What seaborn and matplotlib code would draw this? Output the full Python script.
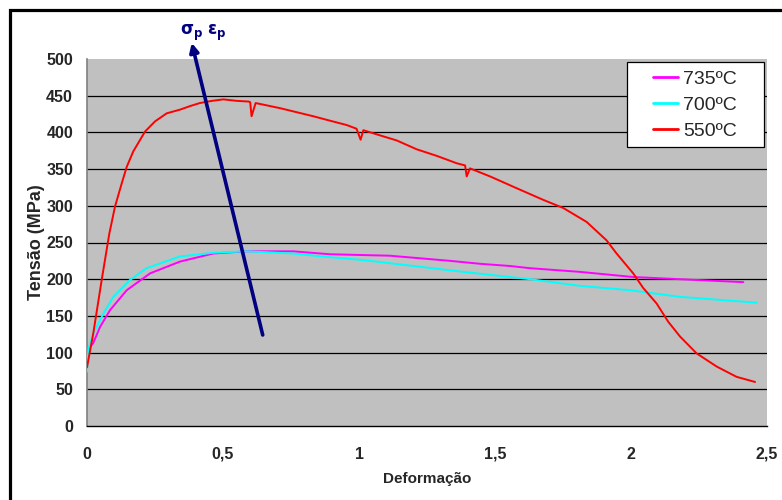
import matplotlib
matplotlib.use("Agg")
import matplotlib.pyplot as plt
from matplotlib.patches import Rectangle
import pandas as pd
import seaborn as sns

# Stress-strain curves at three test temperatures
strain_735 = [0, 0.005, 0.023, 0.048, 0.085, 0.146, 0.232, 0.342, 0.464, 0.587,
              0.758, 0.893, 1.114, 1.335, 1.445, 1.555, 1.629, 1.812, 2.008, 2.18, 2.413]
stress_735 = [83, 105, 113, 135, 158, 185, 208, 224, 235, 238,
              238, 234, 232, 225, 221, 218, 215, 210, 203, 200, 196]

strain_700 = [0, 0.005, 0.023, 0.06, 0.097, 0.158, 0.219, 0.342, 0.464, 0.587,
              0.758, 0.893, 1.016, 1.224, 1.383, 1.555, 1.629, 1.812, 1.996, 2.18, 2.462]
stress_700 = [74, 105, 126, 153, 176, 199, 215, 231, 236, 238,
              235, 230, 226, 217, 210, 203, 200, 191, 185, 176, 168]

strain_550 = [0, 0.01, 0.023, 0.054, 0.082, 0.103, 0.128, 0.146, 0.17, 0.213,
              0.25, 0.293, 0.342, 0.38, 0.415, 0.46, 0.501, 0.55, 0.595, 0.6,
              0.605, 0.62, 0.71, 0.832, 0.893, 0.955, 0.991, 1.006, 1.016, 1.077,
              1.139, 1.212, 1.286, 1.359, 1.39, 1.396, 1.408, 1.482, 1.543, 1.567,
              1.678, 1.751, 1.837, 1.91, 1.947, 2.008, 2.045, 2.094, 2.137, 2.18,
              2.241, 2.315, 2.388, 2.456]
stress_550 = [80, 100, 126, 199, 262, 299, 331, 353, 374, 401,
              415, 426, 431, 436, 440, 443, 445, 443, 442, 441,
              422, 440, 433, 422, 416, 410, 405, 390, 403, 396,
              389, 377, 368, 358, 355, 340, 351, 340, 330, 326,
              308, 297, 278, 253, 235, 208, 188, 167, 142, 122,
              99, 81, 67, 60]

labels = ["735ºC", "700ºC", "550ºC"]
colors = ["#FF00FF", "#00FFFF", "#FF0000"]

x_ticks = [0, 0.5, 1, 1.5, 2, 2.5]
x_tick_labels = ["0", "0,5", "1", "1,5", "2", "2,5"]
y_ticks = [0, 50, 100, 150, 200, 250, 300, 350, 400, 450, 500]

# peak-stress trend arrow (start, end)
arrow_from = (0.646, 124)
arrow_to = (0.385, 522)

frames = []
for lab, xs, ys in [(labels[0], strain_735, stress_735),
                    (labels[1], strain_700, stress_700),
                    (labels[2], strain_550, stress_550)]:
    frames.append(pd.DataFrame({"Deformação": xs, "Tensão (MPa)": ys, "T": lab}))
df = pd.concat(frames, ignore_index=True)

sns.set_theme(style="white")
plt.rcParams["font.family"] = ["Liberation Sans", "DejaVu Sans"]
plt.rcParams["mathtext.default"] = "bf"

fig = plt.figure(figsize=(7.82, 5.0), dpi=100)
fig.patch.set_facecolor("white")
ax = fig.add_axes([87 / 782, 74 / 500, 680 / 782, 367 / 500])
ax.set_facecolor("#C0C0C0")

sns.lineplot(data=df, x="Deformação", y="Tensão (MPa)", hue="T",
             palette=dict(zip(labels, colors)), hue_order=labels,
             sort=False, estimator=None, linewidth=1.4, ax=ax, zorder=3)

ax.set_xlim(0, 2.5)
ax.set_ylim(0, 500)
ax.set_xticks(x_ticks)
ax.set_xticklabels(x_tick_labels)
ax.set_yticks(y_ticks)
for yv in y_ticks[1:-1]:
    ax.axhline(yv, color="black", lw=0.9, zorder=1)

for s in ["top", "right"]:
    ax.spines[s].set_visible(False)
ax.spines["left"].set_color("#808080")
ax.spines["left"].set_linewidth(1.2)
ax.spines["bottom"].set_color("black")
ax.spines["bottom"].set_linewidth(1.0)

ax.tick_params(axis="both", direction="out", length=5, width=1, color="#808080",
               labelsize=11.5)
ax.tick_params(axis="x", pad=10)
ax.tick_params(axis="y", pad=5)
for t in ax.get_xticklabels() + ax.get_yticklabels():
    t.set_fontweight("bold")
ax.set_xlabel("Deformação", fontsize=11, fontweight="bold", labelpad=7)
ax.set_ylabel("Tensão (MPa)", fontsize=13, fontweight="bold", labelpad=1)

ax.annotate("", xy=arrow_to, xytext=arrow_from, annotation_clip=False,
            arrowprops=dict(arrowstyle="-|>", color="#000080", lw=2.6,
                            mutation_scale=13, shrinkA=0, shrinkB=0),
            zorder=5)
ax.text(0.428, 535, r"$\sigma_p\ \varepsilon_p$", color="#000080", fontsize=12,
        ha="center", va="center", clip_on=False)

# legend box drawn separately so its padding can be set freely
ax.add_patch(Rectangle((0.794, 0.760), 0.2016, 0.2318, transform=ax.transAxes,
                       facecolor="white", edgecolor="black", lw=0.9, zorder=6))
leg = ax.legend(loc="upper left", bbox_to_anchor=(0.8324, 0.969), fontsize=14,
                frameon=False, handlelength=1.29, handletextpad=0.26,
                borderpad=0, borderaxespad=0, labelspacing=0.43)
leg.set_zorder(7)
for h in leg.get_lines():
    h.set_linewidth(2)

fig.patches.append(Rectangle((9.5 / 782, -0.2), 1.3, 1.2 - 9.5 / 500,
                             transform=fig.transFigure, fill=False,
                             lw=2.3, ec="black"))

fig.savefig("out.png", dpi=100, facecolor="white")
